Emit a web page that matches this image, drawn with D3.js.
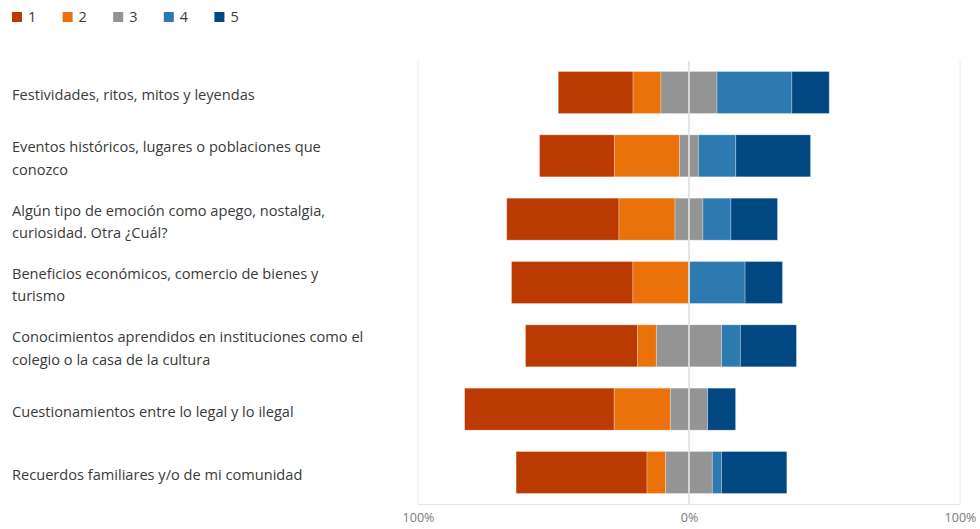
<!DOCTYPE html>
<html>
<head>
<meta charset="utf-8">
<script src="https://cdn.jsdelivr.net/npm/d3@7/dist/d3.min.js"></script>
<style>
  html, body { margin: 0; padding: 0; background: #fff; }
  svg { display: block; font-family: "Open Sans", "Noto Sans", sans-serif; }
</style>
</head>
<body>
<svg id="chart" width="980" height="529"></svg>
<script>
// Response categories (Likert scale 1–5)
const levels = ["1", "2", "3", "4", "5"];
const levelColors = ["#ba3a02", "#eb720a", "#949494", "#2c7ab0", "#014882"];

// Statements
const categories = [
  "Festividades, ritos, mitos y leyendas",
  "Eventos históricos, lugares o poblaciones que conozco",
  "Algún tipo de emoción como apego, nostalgia, curiosidad. Otra ¿Cuál?",
  "Beneficios económicos, comercio de bienes y turismo",
  "Conocimientos aprendidos en instituciones como el colegio o la casa de la cultura",
  "Cuestionamientos entre lo legal y lo ilegal",
  "Recuerdos familiares y/o de mi comunidad"
];

// Share of answers (%) per level, one array per level, ordered like categories
const level1 = [27.6, 27.6, 41.4, 44.8, 41.4, 55.2, 48.3];
const level2 = [10.3, 24.1, 20.7, 20.7, 6.9, 20.7, 6.9];
const level3 = [20.7, 6.9, 10.3, 0.0, 24.1, 13.8, 17.2];
const level4 = [27.6, 13.8, 10.3, 20.7, 6.9, 0.0, 3.4];
const level5 = [13.8, 27.6, 17.2, 13.8, 20.7, 10.3, 24.1];

// Axis tick labels
const tickValues = [-100, 0, 100];
const tickLabels = ["100%", "0%", "100%"];

const series = [level1, level2, level3, level4, level5];

const svg = d3.select("#chart");

const x = d3.scaleLinear().domain([-100, 100]).range([418, 960]);
const y = d3.scaleBand()
  .domain(categories)
  .range([61, 504])
  .paddingInner(0.337)
  .paddingOuter(0.166);
const color = d3.scaleOrdinal().domain(levels).range(levelColors);

// Diverging layout: the neutral level is split evenly around zero
const rows = categories.map((cat, i) => {
  const vals = series.map(s => s[i]);
  let start = -(vals[0] + vals[1] + vals[2] / 2);
  return vals.map((v, k) => {
    const seg = { cat, level: levels[k], x0: start, x1: start + v };
    start += v;
    return seg;
  });
});

// Grid
const grid = svg.append("g");
grid.selectAll("line.v")
  .data(tickValues.filter(t => t !== 0))
  .join("line")
  .attr("x1", d => x(d)).attr("x2", d => x(d))
  .attr("y1", 61).attr("y2", 504)
  .attr("stroke", "#ececec").attr("stroke-width", 1);
grid.append("line")
  .attr("x1", x(-100)).attr("x2", x(100))
  .attr("y1", 504.5).attr("y2", 504.5)
  .attr("stroke", "#e6e6e6").attr("stroke-width", 1);

// Bars
svg.append("g")
  .selectAll("g")
  .data(rows)
  .join("g")
  .selectAll("rect")
  .data(d => d.filter(s => s.x1 - s.x0 > 0))
  .join("rect")
  .attr("x", d => x(d.x0))
  .attr("width", d => x(d.x1) - x(d.x0))
  .attr("y", d => y(d.cat))
  .attr("height", y.bandwidth())
  .attr("fill", d => color(d.level))
  .attr("stroke", "rgba(255,255,255,0.35)")
  .attr("stroke-width", 0.8);

// Zero line drawn over the bars
svg.append("line")
  .attr("x1", x(0)).attr("x2", x(0))
  .attr("y1", 61).attr("y2", 504)
  .attr("stroke", "rgba(225,225,225,0.85)").attr("stroke-width", 2);

// Axis labels
const xAxis = d3.axisBottom(x)
  .tickValues(tickValues)
  .tickFormat((d, i) => tickLabels[i])
  .tickSize(0)
  .tickPadding(8);
const ax = svg.append("g").attr("transform", "translate(0,505)").call(xAxis);
ax.select(".domain").remove();
ax.selectAll("text")
  .attr("font-size", 12.5)
  .attr("fill", "#7a7a7a")
  .attr("font-family", "\"Open Sans\", sans-serif");

// Category labels, wrapped to the available width
const labelWidth = 358;
const lineHeight = 22.5;
const labels = svg.append("g");
categories.forEach(cat => {
  const t = labels.append("text")
    .attr("x", 12)
    .attr("font-size", 14.6)
    .attr("fill", "#3a3a3a");
  const words = cat.split(" ");
  const lines = [];
  let line = [];
  const probe = t.append("tspan");
  words.forEach(w => {
    const trial = line.concat(w).join(" ");
    probe.text(trial);
    if (probe.node().getComputedTextLength() > labelWidth && line.length) {
      lines.push(line.join(" "));
      line = [w];
    } else {
      line.push(w);
    }
  });
  lines.push(line.join(" "));
  probe.remove();
  const cy = y(cat) + y.bandwidth() / 2 + 2.5;
  const first = cy - (lines.length - 1) * lineHeight / 2;
  lines.forEach((l, i) => {
    t.append("tspan")
      .attr("x", 12)
      .attr("y", first + i * lineHeight)
      .attr("dy", "0.35em")
      .text(l);
  });
});

// Legend
const legend = svg.append("g");
const legendItems = legend.selectAll("g")
  .data(levels)
  .join("g")
  .attr("transform", (d, i) => `translate(${12 + i * 50.6},12)`);
legendItems.append("rect")
  .attr("width", 10).attr("height", 10)
  .attr("fill", d => color(d));
legendItems.append("text")
  .attr("x", 16).attr("y", 5)
  .attr("dy", "0.36em")
  .attr("font-size", 14.5)
  .attr("fill", "#3a3a3a")
  .text(d => d);
</script>
</body>
</html>
